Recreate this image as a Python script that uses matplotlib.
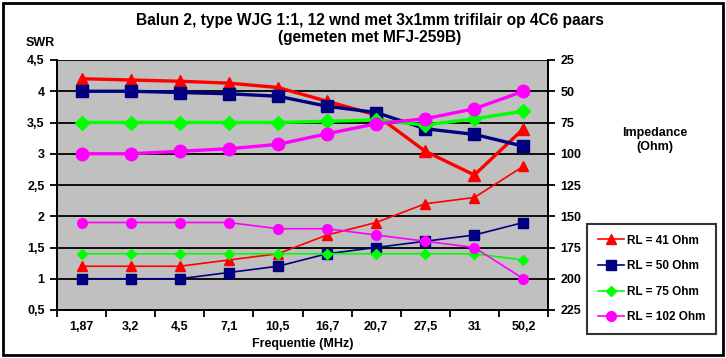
import numpy as np
import matplotlib
matplotlib.use("Agg")
from matplotlib import pyplot as plt
from matplotlib.patches import Rectangle

freqs = ["1,87", "3,2", "4,5", "7,1", "10,5", "16,7", "20,7", "27,5", "31", "50,2"]
labels = ["RL = 41 Ohm", "RL = 50 Ohm", "RL = 75 Ohm", "RL = 102 Ohm"]

# SWR (left axis)
swr41 = [1.2, 1.2, 1.2, 1.3, 1.4, 1.7, 1.9, 2.2, 2.3, 2.8]
swr50 = [1.0, 1.0, 1.0, 1.1, 1.2, 1.4, 1.5, 1.6, 1.7, 1.9]
swr75 = [1.4, 1.4, 1.4, 1.4, 1.4, 1.4, 1.4, 1.4, 1.4, 1.3]
swr102 = [1.9, 1.9, 1.9, 1.9, 1.8, 1.8, 1.7, 1.6, 1.5, 1.0]

# Impedance in Ohm (right axis, reversed)
z41 = [40, 41, 42, 43.5, 47, 58, 69, 98, 117, 80]
z50 = [50, 50, 51, 52, 54, 62, 67, 80, 84.5, 94]
z75 = [75, 75, 75, 75, 75, 74, 73, 77, 72, 66]
z102 = [100, 100, 98, 96, 92.5, 84, 76, 72, 64, 50]

colors = ["#FF0000", "#000080", "#00FF00", "#FF00FF"]
markers = ["^", "s", "D", "o"]

plt.rcParams['font.family'] = ['Liberation Sans', 'DejaVu Sans']
plt.rcParams['font.weight'] = 'bold'

W, H = 726, 358
fig = plt.figure(figsize=(W/100, H/100), dpi=100, facecolor="w")
ax = fig.add_axes([57/W, (H-310)/H, (548-57)/W, 250/H])
ax2 = ax.twinx()

x = np.arange(len(freqs))

handles = []
thin_ms = [7, 6.5, 5, 7]
for s, c, m, ms, lab in zip([swr41, swr50, swr75, swr102], colors, markers, thin_ms, labels):
    h, = ax.plot(x, s, color=c, marker=m, lw=1.2, ms=ms, mec=c, label=lab)
    handles.append(h)

thick_ms = [9, 8, 7, 9]
for z, c, m, ms in zip([z41, z50, z75, z102], colors, markers, thick_ms):
    ax2.plot(x, z, color=c, marker=m, lw=2.4, ms=ms, mec=c)

ax.set_facecolor("#C0C0C0")
ax.set_xlim(-0.5, len(freqs)-0.5)
ax.set_ylim(0.5, 4.5)
ax.set_yticks(np.arange(0.5, 4.51, 0.5))
ax.set_yticklabels(["0,5", "1", "1,5", "2", "2,5", "3", "3,5", "4", "4,5"])
ax.yaxis.grid(True, color="black", lw=1.3)
ax.set_axisbelow(True)
ax.set_xticks(x)
ax.set_xticklabels(freqs)
ax.set_xticks(np.arange(-0.5, len(freqs), 1), minor=True)
ax.tick_params(axis="x", which="major", length=0, pad=8)
ax.tick_params(axis="x", which="minor", length=5, width=1.3, direction="out")
ax.tick_params(axis="y", length=5, width=1.3, pad=4)
ax.tick_params(labelsize=9)

ax2.set_ylim(225, 25)
ax2.set_yticks(np.arange(25, 226, 25))
ax2.tick_params(axis="y", length=5, width=1.3, pad=4, labelsize=9)

for a in (ax, ax2):
    a.spines["top"].set_visible(False)
    for side in ("left", "right", "bottom"):
        a.spines[side].set_linewidth(1.3)

fig.text(370/W, 1-29/H, "Balun 2, type WJG 1:1, 12 wnd met 3x1mm trifilair op 4C6 paars\n(gemeten met MFJ-259B)",
         ha="center", va="center", fontsize=11.2, fontweight="bold", linespacing=1.1)
fig.text(40/W, 1-43/H, "SWR", ha="center", va="center", fontsize=9, fontweight="bold")
fig.text(655/W, 1-140/H, "Impedance\n(Ohm)", ha="center", va="center", fontsize=9, fontweight="bold")
fig.text(303/W, 1-344/H, "Frequentie (MHz)", ha="center", va="center", fontsize=9, fontweight="bold")

leg = ax2.legend(handles=handles, loc="upper left", bbox_to_anchor=(587/W, 1-224/H), bbox_transform=fig.transFigure,
                 frameon=True, fancybox=False, edgecolor="black", fontsize=8.5, handlelength=2.2,
                 labelspacing=1.15, borderpad=0.9, handletextpad=0.3, borderaxespad=0)
leg.get_frame().set_linewidth(1.5)

fig.patches.append(Rectangle((3/W, 3/H), 720/W, 352/H, transform=fig.transFigure,
                             fill=False, edgecolor="black", lw=2))

fig.savefig("out.png", dpi=100, facecolor="w")
